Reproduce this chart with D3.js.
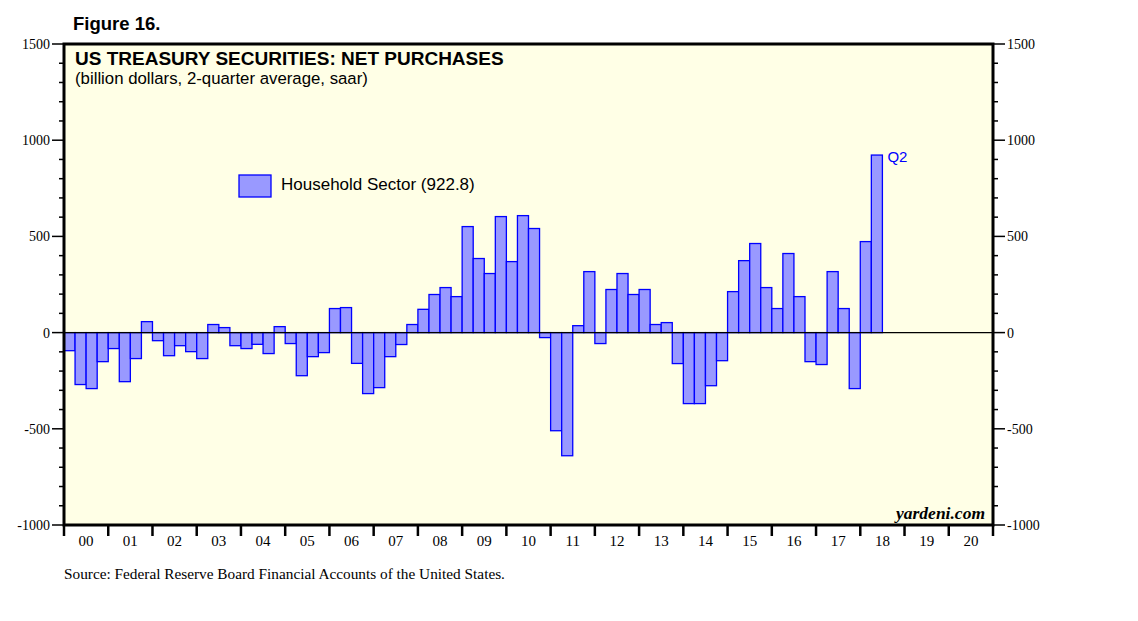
<!DOCTYPE html>
<html>
<head>
<meta charset="utf-8">
<script src="https://cdn.jsdelivr.net/npm/d3@7.9.0/dist/d3.min.js"></script>
<style>
  body { margin: 0; background: #fff; }
  svg { display: block; }
</style>
</head>
<body>
<svg id="chart" width="1138" height="621"></svg>
<script>
// quarterly values, 2000Q1 .. 2018Q2 (billion dollars, saar)
const values = [
  -94, -270, -291, -151,   // 00
  -83, -255, -135, 57,     // 01
  -42, -120, -68, -99,     // 02
  -135, 42, 26, -68,       // 03
  -83, -61, -109, 31,      // 04
  -57, -224, -125, -104,   // 05
  125, 130, -160, -317,    // 06
  -286, -125, -62, 42,     // 07
  121, 198, 234, 187,      // 08
  551, 385, 307, 603,      // 09
  369, 608, 541, -26,      // 10
  -510, -640, 36, 317,     // 11
  -57, 224, 307, 198,      // 12
  224, 42, 52, -161,       // 13
  -369, -369, -276, -146,  // 14
  213, 374, 463, 234,      // 15
  125, 411, 187, -151,     // 16
  -166, 317, 125, -291,    // 17
  473, 922.8               // 18
];
const yearLabels = ["00","01","02","03","04","05","06","07","08","09","10",
                    "11","12","13","14","15","16","17","18","19","20"];
const yMajor = [-1000, -500, 0, 500, 1000, 1500];

const svg = d3.select("#chart");
const plotL = 64, plotR = 993, plotT = 44, plotB = 525;

const x = d3.scaleLinear().domain([0, yearLabels.length * 4]).range([plotL, plotR]);
const y = d3.scaleLinear().domain([-1000, 1500]).range([plotB, plotT]);

const serif = "'Liberation Serif', 'Times New Roman', serif";
const sans = "'Liberation Sans', Arial, sans-serif";

// background
svg.append("rect")
  .attr("x", plotL).attr("y", plotT)
  .attr("width", plotR - plotL).attr("height", plotB - plotT)
  .attr("fill", "#ffffe6");

// bars
svg.append("g")
  .selectAll("rect")
  .data(values)
  .join("rect")
  .attr("x", (d, i) => x(i))
  .attr("width", (d, i) => x(i + 1) - x(i))
  .attr("y", (d) => y(Math.max(0, d)))
  .attr("height", (d) => Math.abs(y(d) - y(0)))
  .attr("fill", "#9999ff")
  .attr("stroke", "#0000ff")
  .attr("stroke-width", 1.3);

// zero line
svg.append("line")
  .attr("x1", plotL).attr("x2", plotR)
  .attr("y1", y(0)).attr("y2", y(0))
  .attr("stroke", "#000").attr("stroke-width", 1.3);

// frame
svg.append("rect")
  .attr("x", plotL).attr("y", plotT)
  .attr("width", plotR - plotL).attr("height", plotB - plotT)
  .attr("fill", "none").attr("stroke", "#000").attr("stroke-width", 3);

// y axes (left + right)
const minorTicks = d3.range(-1000, 1501, 100);

[["left", plotL, -1], ["right", plotR, 1]].forEach(([side, xp, dir]) => {
  const g = svg.append("g");
  g.selectAll("line")
    .data(minorTicks)
    .join("line")
    .attr("x1", xp)
    .attr("x2", (d) => xp + dir * (d % 500 === 0 ? 12 : 5))
    .attr("y1", (d) => y(d)).attr("y2", (d) => y(d))
    .attr("stroke", "#000").attr("stroke-width", 1.5);
  g.selectAll("text")
    .data(yMajor)
    .join("text")
    .attr("x", xp + dir * 14)
    .attr("y", (d) => y(d) + 5)
    .attr("text-anchor", side === "left" ? "end" : "start")
    .attr("font-family", serif)
    .attr("font-size", 14)
    .text((d) => d);
});

// x axis ticks + year labels
const xg = svg.append("g");
xg.selectAll("line")
  .data(d3.range(yearLabels.length + 1))
  .join("line")
  .attr("x1", (d) => x(d * 4)).attr("x2", (d) => x(d * 4))
  .attr("y1", plotB).attr("y2", plotB + 11)
  .attr("stroke", "#000").attr("stroke-width", 2.5);
xg.selectAll("text")
  .data(yearLabels)
  .join("text")
  .attr("x", (d, i) => x(i * 4 + 2))
  .attr("y", plotB + 21)
  .attr("text-anchor", "middle")
  .attr("font-family", serif)
  .attr("font-size", 15)
  .text((d) => d);

// titles
svg.append("text").attr("x", 73).attr("y", 30)
  .attr("font-family", sans).attr("font-weight", "bold").attr("font-size", 18.5)
  .text("Figure 16.");
svg.append("text").attr("x", 75).attr("y", 65)
  .attr("font-family", sans).attr("font-weight", "bold").attr("font-size", 19)
  .text("US TREASURY SECURITIES: NET PURCHASES");
svg.append("text").attr("x", 75).attr("y", 84)
  .attr("font-family", sans).attr("font-size", 16.8)
  .text("(billion dollars, 2-quarter average, saar)");

// legend
svg.append("rect").attr("x", 239).attr("y", 175).attr("width", 32).attr("height", 22)
  .attr("fill", "#9999ff").attr("stroke", "#0000ff").attr("stroke-width", 1.3);
svg.append("text").attr("x", 281).attr("y", 190)
  .attr("font-family", sans).attr("font-size", 17)
  .text("Household Sector (922.8)");

// last point label
const last = values.length - 1;
svg.append("text").attr("x", x(last + 1) + 5).attr("y", y(values[last]) + 7)
  .attr("font-family", sans).attr("font-size", 15).attr("fill", "#0000ff")
  .text("Q2");

// watermark + source
svg.append("text").attr("x", 985).attr("y", 519)
  .attr("text-anchor", "end")
  .attr("font-family", serif).attr("font-style", "italic").attr("font-weight", "bold")
  .attr("font-size", 17.5)
  .text("yardeni.com");
svg.append("text").attr("x", 64).attr("y", 579)
  .attr("font-family", serif).attr("font-size", 15.3)
  .text("Source: Federal Reserve Board Financial Accounts of the United States.");
</script>
</body>
</html>
